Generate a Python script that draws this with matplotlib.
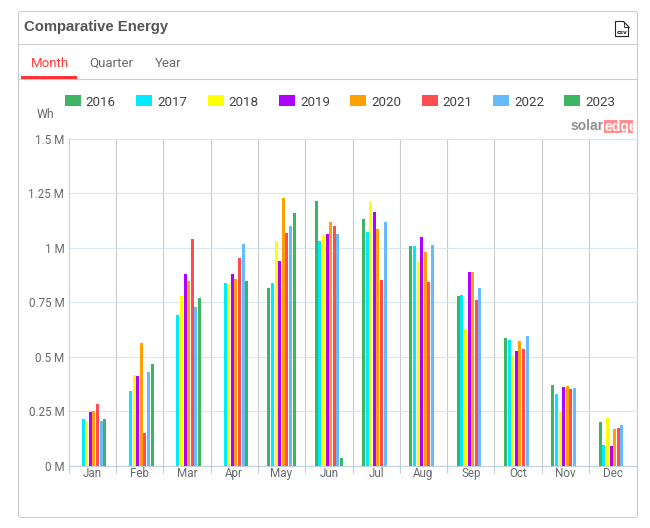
import matplotlib
matplotlib.use("Agg")
import matplotlib.pyplot as plt
from matplotlib.patches import FancyBboxPatch, Rectangle, Polygon
from matplotlib.lines import Line2D
from matplotlib.transforms import Affine2D
import numpy as np

W, H = 650, 528
months = ["Jan", "Feb", "Mar", "Apr", "May", "Jun", "Jul", "Aug", "Sep", "Oct", "Nov", "Dec"]
y2016 = [0, 0, 0, 0, .815, 1.213, 1.131, 1.007, .778, .586, .371, .201]
y2017 = [.215, .343, .691, .838, .838, 1.03, 1.071, 1.007, .783, .577, .33, .096]
y2018 = [.20, .417, .778, .835, 1.03, 1.058, 1.209, .934, .627, .504, .252, .22]
y2019 = [.247, .412, .879, .879, .938, 1.062, 1.163, 1.048, .89, .526, .362, .092]
y2020 = [.252, .563, .847, .856, 1.227, 1.117, 1.085, .98, .89, .572, .366, .169]
y2021 = [.284, .151, 1.039, .952, 1.067, 1.099, .852, .842, .76, .536, .353, .174]
y2022 = [.206, .43, .728, 1.016, 1.099, 1.062, 1.117, 1.012, .815, .595, .357, .188]
y2023 = [.215, .467, .769, .847, 1.158, .037, 0, 0, 0, 0, 0, 0]
series = [("2016", y2016, "#3eb562"), ("2017", y2017, "#00eaff"), ("2018", y2018, "#ffff00"),
          ("2019", y2019, "#b000ff"), ("2020", y2020, "#ff9f00"), ("2021", y2021, "#ff4d4f"),
          ("2022", y2022, "#66bbff"), ("2023", y2023, "#3eb562")]
yticks = [0, .25, .5, .75, 1, 1.25, 1.5]
ylabels = ["0 M", "0.25 M", "0.5 M", "0.75 M", "1 M", "1.25 M", "1.5 M"]

GREY = "#666a6e"
fig = plt.figure(figsize=(W / 100, H / 100), dpi=100, facecolor="white")
# pixel coordinates, origin top-left
px = Affine2D().scale(1 / W, -1 / H).translate(0, 1) + fig.transFigure

fig.add_artist(FancyBboxPatch((18.5, 11.5), 619, 506, boxstyle="round,pad=0,rounding_size=3",
                              fc="white", ec="#cccccc", lw=.8, transform=px, zorder=-5))
for yy in (43.5, 78.5):
    fig.add_artist(Line2D([19, 637], [yy, yy], color="#cccccc", lw=.8, transform=px))
fig.add_artist(Rectangle((21, 76), 56, 2.5, fc="#ff3333", ec="none", transform=px, zorder=3))

fig.text(24 / W, 1 - 26.5 / H, "Comparative Energy", family="Liberation Sans", weight="bold",
         fontsize=10.7, color="#555555", va="center")
for txt, x, c in (("Month", 31, "#ff3b3b"), ("Quarter", 89.5, GREY), ("Year", 155, GREY)):
    fig.text(x / W, 1 - 63 / H, txt, family="Roboto", fontsize=9.5, color=c, va="center")
fig.text(37 / W, 1 - 115 / H, "Wh", family="Roboto", fontsize=8.8, color=GREY, va="center")

# CSV icon
fig.add_artist(Polygon([(615.5, 21.5), (623.5, 21.5), (628.5, 26.5), (628.5, 36.5), (615.5, 36.5)],
                       closed=True, fc="white", ec="#222222", lw=.8, transform=px))
fig.add_artist(Line2D([623.5, 623.5, 628.5], [21.5, 26.5, 26.5], color="#222222", lw=.6, transform=px))
fig.text(622 / W, 1 - 32 / H, "csv", family="DejaVu Sans", weight="bold", fontsize=4.2,
         color="#222222", ha="center", va="center")

ax = fig.add_axes([68.5 / W, 1 - 466 / H, (636.5 - 68.5) / W, (466 - 138.5) / H])
ax.patch.set_alpha(0)
step, bw = 0.076, 0.0634
x = np.arange(12) + 0.5
for j, (name, vals, col) in enumerate(series):
    ax.bar(x + (j - 3.5) * step, vals, width=bw, color=col, label=name, lw=0, zorder=3)

ax.set_xlim(0, 12)
ax.set_ylim(0, 1.5)
ax.set_yticks(yticks, ylabels)
ax.set_xticks(np.arange(13))
ax.set_xticklabels([])
ax.set_xticks(x, months, minor=True)
ax.grid(axis="y", color="#d9e6f0", lw=.8, zorder=1, clip_on=False)
ax.grid(axis="x", color="#c8cbce", lw=.8, zorder=1, clip_on=False)
ax.set_axisbelow(True)
ax.tick_params(axis="x", which="major", length=5, width=.8, color="#c8cbce")
ax.tick_params(axis="x", which="minor", length=0, pad=1, labelsize=8.4, labelcolor=GREY)
ax.tick_params(axis="y", length=0, pad=3, labelsize=8.4, labelcolor=GREY)
for lab in ax.get_xticklabels(minor=True) + ax.get_yticklabels():
    lab.set_family("Roboto")
for s in ("top", "right"):
    ax.spines[s].set_visible(False)
ax.spines["left"].set_color("#c8d4e0")
ax.spines["left"].set_linewidth(.8)
ax.spines["bottom"].set_color("#c0d0e0")
ax.spines["bottom"].set_linewidth(.8)

h, l = ax.get_legend_handles_labels()
fig.legend(h, l, ncol=8, frameon=False, loc="center left",
           bbox_to_anchor=(65 / W, 1 - 102 / H), borderaxespad=0, borderpad=0,
           prop={"family": "Roboto", "size": 9.6}, labelcolor="#444444",
           handlelength=1.2, handleheight=0.9, handletextpad=0.36, columnspacing=1.54)

# logo
fig.add_artist(Rectangle((604, 120), 29, 13, fc="#ff8f8f", ec="none", transform=px))
fig.text(603.5 / W, 1 - 126.5 / H, "solar", family="Liberation Sans", weight="bold", fontsize=10,
         color="#8f8f8f", ha="right", va="center")
fig.text(604.5 / W, 1 - 126.5 / H, "edge", family="Liberation Sans", weight="bold", fontsize=10,
         color="white", ha="left", va="center")

fig.savefig("out.png", dpi=100)
